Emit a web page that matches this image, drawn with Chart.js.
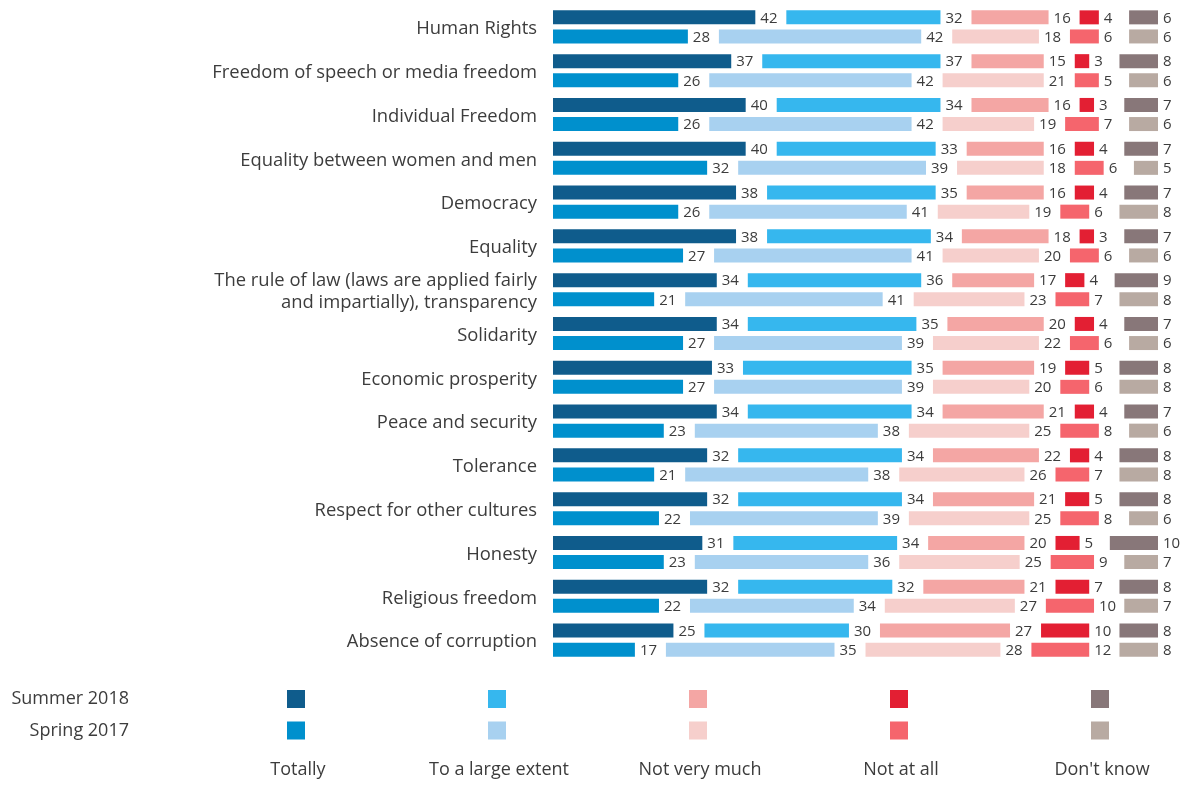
<!DOCTYPE html>
<html>
<head>
<meta charset="utf-8">
<script src="https://cdn.jsdelivr.net/npm/chart.js@4.4.1/dist/chart.umd.min.js"></script>
<style>
  html, body { margin: 0; padding: 0; background: #fff; }
  canvas { display: block; }
</style>
</head>
<body>
<canvas id="values" width="1188" height="785"></canvas>
<script>
// categories, top to bottom
const categories = [
  'Human Rights',
  'Freedom of speech or media freedom',
  'Individual Freedom',
  'Equality between women and men',
  'Democracy',
  'Equality',
  ['The rule of law (laws are applied fairly', 'and impartially), transparency'],
  'Solidarity',
  'Economic prosperity',
  'Peace and security',
  'Tolerance',
  'Respect for other cultures',
  'Honesty',
  'Religious freedom',
  'Absence of corruption'
];
const answers = ['Totally', 'To a large extent', 'Not very much', 'Not at all', "Don't know"];
const periods = ['Summer 2018', 'Spring 2017'];

// Summer 2018
const totally2018  = [42, 37, 40, 40, 38, 38, 34, 34, 33, 34, 32, 32, 31, 32, 25];
const large2018    = [32, 37, 34, 33, 35, 34, 36, 35, 35, 34, 34, 34, 34, 32, 30];
const notMuch2018  = [16, 15, 16, 16, 16, 18, 17, 20, 19, 21, 22, 21, 20, 21, 27];
const notAtAll2018 = [4, 3, 3, 4, 4, 3, 4, 4, 5, 4, 4, 5, 5, 7, 10];
const dontKnow2018 = [6, 8, 7, 7, 7, 7, 9, 7, 8, 7, 8, 8, 10, 8, 8];

// Spring 2017
const totally2017  = [28, 26, 26, 32, 26, 27, 21, 27, 27, 23, 21, 22, 23, 22, 17];
const large2017    = [42, 42, 42, 39, 41, 41, 41, 39, 39, 38, 38, 39, 36, 34, 35];
const notMuch2017  = [18, 21, 19, 18, 19, 20, 23, 22, 20, 25, 26, 25, 25, 27, 28];
const notAtAll2017 = [6, 5, 7, 6, 6, 6, 7, 6, 6, 8, 7, 8, 9, 10, 12];
const dontKnow2017 = [6, 6, 6, 5, 8, 6, 8, 6, 8, 6, 8, 6, 7, 7, 8];

const colors2018 = ['#0f5c8c', '#36b7ee', '#f4a6a4', '#e31f33', '#887779'];
const colors2017 = ['#0090cd', '#a8d1f0', '#f6cfcc', '#f5656d', '#b8aaa2'];

const GAP = 6.44;     // blank space (in axis units) left for the value label
const XMAX = 125.6;   // "Don't know" is pushed to the right end

Chart.defaults.font.family = "'Open Sans', sans-serif";
Chart.defaults.color = '#3c3c3c';

function yearDatasets(stack, series, colors) {
  let out = [];
  series.forEach(function(vals, k) {
    out.push({ label: answers[k], data: vals, backgroundColor: colors[k], stack: stack, showValue: true });
    if (k < 3) {
      out.push({ data: vals.map(() => GAP), backgroundColor: 'rgba(0,0,0,0)', stack: stack });
    } else if (k === 3) {
      let fill = vals.map(function(v, i) {
        let sum = 0;
        series.forEach(s => sum += s[i]);
        return XMAX - sum - 3 * GAP;
      });
      out.push({ data: fill, backgroundColor: 'rgba(0,0,0,0)', stack: stack });
    }
  });
  return out;
}

let datasets = yearDatasets('y2018', [totally2018, large2018, notMuch2018, notAtAll2018, dontKnow2018], colors2018)
  .concat(yearDatasets('y2017', [totally2017, large2017, notMuch2017, notAtAll2017, dontKnow2017], colors2017));

// number right after each bar segment
const valueLabels = {
  id: 'valueLabels',
  afterDatasetsDraw(chart) {
    const ctx = chart.ctx;
    ctx.save();
    ctx.font = "15px 'Open Sans'";
    ctx.fillStyle = '#3c3c3c';
    ctx.textAlign = 'left';
    ctx.textBaseline = 'middle';
    chart.data.datasets.forEach(function(ds, di) {
      if (!ds.showValue) return;
      chart.getDatasetMeta(di).data.forEach(function(bar, i) {
        ctx.fillText(ds.data[i], bar.x + 5, bar.y + 1);
      });
    });
    ctx.restore();
  }
};

// legend grid at the bottom
const bottomLegend = {
  id: 'bottomLegend',
  afterDraw(chart) {
    const ctx = chart.ctx;
    const cols = [296, 497, 698, 899, 1100];
    const rows = [699, 730.5];
    const palettes = [colors2018, colors2017];
    ctx.save();
    ctx.font = "18px 'Open Sans'";
    ctx.fillStyle = '#3c3c3c';
    ctx.textBaseline = 'middle';
    ctx.textAlign = 'right';
    periods.forEach((p, r) => ctx.fillText(p, 129, rows[r]));
    rows.forEach(function(y, r) {
      cols.forEach(function(x, c) {
        ctx.fillStyle = palettes[r][c];
        ctx.fillRect(x - 9, y - 9, 18, 18);
      });
    });
    ctx.fillStyle = '#3c3c3c';
    ctx.textAlign = 'center';
    answers.forEach((a, c) => ctx.fillText(a, cols[c] + 2, 770));
    ctx.restore();
  }
};

new Chart('values', {
  type: 'bar',
  data: { labels: categories, datasets: datasets },
  options: {
    indexAxis: 'y',
    responsive: false,
    animation: false,
    layout: { padding: { top: 5, bottom: 123, right: 30, left: 0 } },
    datasets: { bar: { categoryPercentage: 0.872, barPercentage: 0.733, borderWidth: 0 } },
    plugins: { legend: { display: false }, tooltip: { enabled: false } },
    scales: {
      x: { stacked: true, display: false, min: 0, max: XMAX },
      y: {
        stacked: true,
        grid: { display: false, drawTicks: false },
        border: { display: false },
        ticks: { font: { size: 18.4 }, color: '#3c3c3c', padding: 16, autoSkip: false, labelOffset: 2 },
        afterFit: function(scale) {
          scale.width = 553;
          scale.paddingTop = 0;
          scale.paddingBottom = 0;
        }
      }
    }
  },
  plugins: [valueLabels, bottomLegend]
});
</script>
</body>
</html>
